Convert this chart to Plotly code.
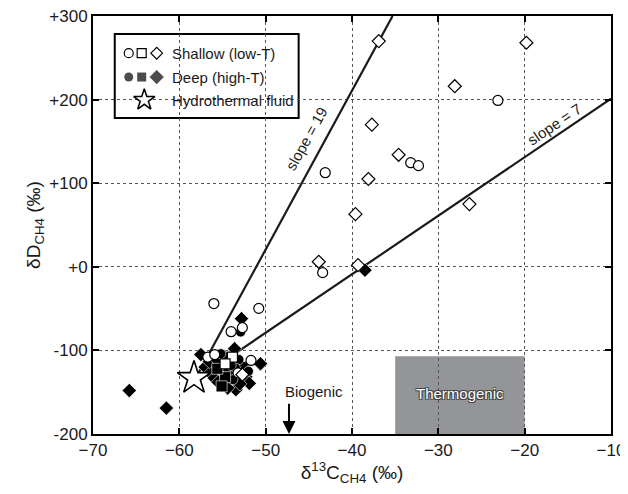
import numpy as np
import plotly.graph_objects as go

# ---------------- data ----------------
shallow_circle_x = [-23.1, -33.2, -32.3, -43.1, -43.4, -56.0, -50.8, -54.0, -52.7, -51.7, -56.7, -55.9, -53.2]
shallow_circle_y = [199, 124.5, 121, 112.6, -7, -44, -49.7, -77.6, -72.8, -112, -108, -105, -127]

shallow_square_x = [-53.85, -54.7]
shallow_square_y = [-108, -116]

shallow_diamond_x = [-36.9, -19.8, -28.1, -37.7, -34.6, -38.1, -26.4, -39.6, -43.85, -39.3, -52.7]
shallow_diamond_y = [270, 268, 216, 170, 134, 105, 75, 63, 6, 2, -129]

deep_circle_x = [-52.9, -55.2, -52.6, -53.1, -53.5, -54.0, -52.0, -53.8]
deep_circle_y = [-78, -104, -119, -111, -121, -118, -125, -135]

deep_square_x = [-54.7, -55.1, -55.6]
deep_square_y = [-132, -143, -122]

deep_diamond_x = [-65.8, -61.5, -52.8, -38.5, -53.6, -57.5, -50.6, -53.45, -54.4, -52.3,
                  -51.9, -57.0, -56.4, -55.95, -56.5, -55.6, -54.8, -54.2, -53.0, -55.5]
deep_diamond_y = [-148, -169, -62, -4, -98, -105, -116, -147, -145, -131.5,
                  -139.4, -120, -127, -133, -113.5, -111.5, -107.5, -124, -140, -138]

fluid_x = [-58.3]
fluid_y = [-133]

# mixing lines drawn from near the hydrothermal fluid
line_origin = (-58.3, -137)
slopes = [19, 7]
slope_labels = ["slope = 19", "slope = 7"]
slope_label_pos = [(-45.3, 154), (-16.6, 170)]
slope_label_angle = [-61, -34]

x_ticks = [-70, -60, -50, -40, -30, -20, -10]
y_ticks = [-200, -100, 0, 100, 200, 300]
y_ticktext = ["-200", "-100", "+0", "+100", "+200", "+300"]

thermo_x = [-35, -20]
thermo_y = [-200, -107]
biogenic_x = -47.3
biogenic_y = [-162, -200]

X_RANGE = [-70, -10]
Y_RANGE = [-200, 300]

FONT = "Liberation Sans, Arial, sans-serif"
TXT = "#1a1a1a"

fig = go.Figure()

x0, y0 = line_origin
for s in slopes:
    x_end = min(X_RANGE[1], x0 + (Y_RANGE[1] - y0) / s)
    xs = np.array([x0, x_end])
    ys = y0 + s * (xs - x0)
    fig.add_trace(go.Scatter(x=xs, y=ys, mode="lines",
                             line=dict(color=TXT, width=2.2),
                             showlegend=False, hoverinfo="skip"))

deep_marker = dict(color="black", line=dict(color="white", width=0.6))
fig.add_trace(go.Scatter(x=deep_diamond_x, y=deep_diamond_y, mode="markers",
                         marker=dict(symbol="diamond", size=11, **deep_marker), showlegend=False))
fig.add_trace(go.Scatter(x=deep_circle_x, y=deep_circle_y, mode="markers",
                         marker=dict(symbol="circle", size=10, **deep_marker), showlegend=False))
fig.add_trace(go.Scatter(x=deep_square_x, y=deep_square_y, mode="markers",
                         marker=dict(symbol="square", size=11, **deep_marker), showlegend=False))

open_marker = dict(color="white", line=dict(color="black", width=1.2))
fig.add_trace(go.Scatter(x=shallow_circle_x, y=shallow_circle_y, mode="markers",
                         marker=dict(symbol="circle", size=10, **open_marker), showlegend=False))
fig.add_trace(go.Scatter(x=shallow_square_x, y=shallow_square_y, mode="markers",
                         marker=dict(symbol="square", size=10, **open_marker), showlegend=False))
fig.add_trace(go.Scatter(x=shallow_diamond_x, y=shallow_diamond_y, mode="markers",
                         marker=dict(symbol="diamond", size=10, **open_marker), showlegend=False))

fig.add_trace(go.Scatter(x=fluid_x, y=fluid_y, mode="markers",
                         marker=dict(symbol="star", size=25, color="white",
                                     line=dict(color="black", width=1.6)),
                         showlegend=False))

# ---------- manual legend (overlay axes spanning the plot area, 0..1) ----------
leg_rows = [0.911, 0.854, 0.799]
leg_sym_x = [0.069, 0.094, 0.123]
fig.add_trace(go.Scatter(x=leg_sym_x, y=[leg_rows[0]] * 3, mode="markers", xaxis="x2", yaxis="y2",
                         marker=dict(symbol=["circle", "square", "diamond"], size=9, **open_marker),
                         showlegend=False, hoverinfo="skip"))
fig.add_trace(go.Scatter(x=leg_sym_x, y=[leg_rows[1]] * 3, mode="markers", xaxis="x2", yaxis="y2",
                         marker=dict(symbol=["circle", "square", "diamond"], size=[9, 9, 11],
                                     color="black", line=dict(width=0)),
                         showlegend=False, hoverinfo="skip"))
fig.add_trace(go.Scatter(x=[0.099], y=[leg_rows[2]], mode="markers", xaxis="x2", yaxis="y2",
                         marker=dict(symbol="star", size=16, color="white",
                                     line=dict(color="black", width=1.5)),
                         showlegend=False, hoverinfo="skip"))

legend_texts = ["Shallow (low-T)", "Deep (high-T)", "Hydrothermal fluid"]
annotations = []
for t, yy in zip(legend_texts, leg_rows):
    annotations.append(dict(x=0.148, y=yy, xref="paper", yref="paper", text=t, showarrow=False,
                            xanchor="left", yanchor="middle",
                            font=dict(family=FONT, size=15, color=TXT)))

for t, (lx, ly), ang in zip(slope_labels, slope_label_pos, slope_label_angle):
    annotations.append(dict(x=lx, y=ly, text=t, showarrow=False, textangle=ang,
                            font=dict(family=FONT, size=15, color=TXT)))

# Biogenic arrow
annotations.append(dict(x=biogenic_x, y=biogenic_y[1], ax=biogenic_x, ay=biogenic_y[0],
                        xref="x", yref="y", axref="x", ayref="y", text="", showarrow=True,
                        arrowhead=2, arrowsize=1.3, arrowwidth=2, arrowcolor="black"))
annotations.append(dict(x=-44.4, y=-149, text="Biogenic", showarrow=False,
                        font=dict(family=FONT, size=15, color=TXT)))

# Thermogenic label
annotations.append(dict(x=(thermo_x[0] + thermo_x[1]) / 2, y=-151, text="Thermogenic", showarrow=False,
                        font=dict(family=FONT, size=15, color="white",
                                  shadow="-1px -1px 0 #444, 1px -1px 0 #444, -1px 1px 0 #444, 1px 1px 0 #444")))

shapes = [
    dict(type="rect", xref="x", yref="y", x0=thermo_x[0], x1=thermo_x[1], y0=thermo_y[0], y1=thermo_y[1],
         fillcolor="#939598", line=dict(width=0), layer="below"),
    dict(type="rect", xref="paper", yref="paper", x0=0.042, x1=0.397, y0=0.756, y1=0.957,
         fillcolor="white", line=dict(color="black", width=2), layer="between"),
]

axis_common = dict(showline=True, linecolor="black", linewidth=2, mirror="ticks",
                   ticks="inside", ticklen=6, tickwidth=2, tickcolor="black",
                   showgrid=True, gridcolor="#555", gridwidth=1, griddash="dot",
                   zeroline=False, automargin=False, ticklabeloverflow="allow",
                   tickfont=dict(family=FONT, size=17, color=TXT))

fig.update_layout(
    width=620, height=478,
    margin=dict(l=85, r=17, t=8, b=52),
    paper_bgcolor="white", plot_bgcolor="white",
    xaxis=dict(range=X_RANGE, tickvals=x_ticks, **axis_common,
               title=dict(text="δ<sup>13</sup>C<sub>CH4</sub> (‰)", standoff=10,
                          font=dict(family=FONT, size=19, color=TXT))),
    yaxis=dict(range=Y_RANGE, tickvals=y_ticks, ticktext=y_ticktext, **axis_common,
               title=dict(text="δD<sub>CH4</sub> (‰)", standoff=4,
                          font=dict(family=FONT, size=19, color=TXT))),
    xaxis2=dict(range=[0, 1], overlaying="x", visible=False, domain=[0, 1]),
    yaxis2=dict(range=[0, 1], overlaying="y", visible=False, domain=[0, 1]),
    shapes=shapes,
    annotations=annotations,
    showlegend=False,
)

fig.write_html("out.html")
